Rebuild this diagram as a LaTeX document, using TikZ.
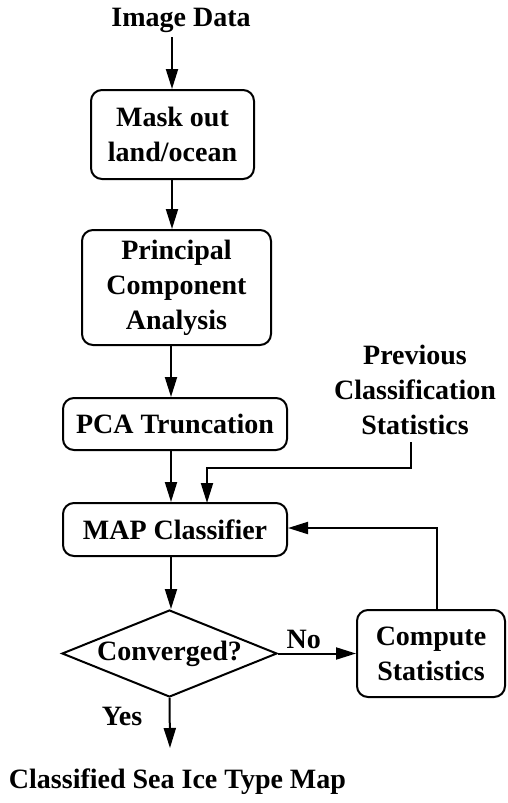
\documentclass[tikz,border=0pt]{standalone}
\usepackage{fontspec}
\setmainfont{Liberation Serif}
\usetikzlibrary{arrows.meta,shapes.geometric}
\begin{document}
\begin{tikzpicture}[x=1pt,y=-1pt,
  every node/.style={font=\bfseries\fontsize{28}{35}\selectfont, inner sep=0pt, align=center},
  procbox/.style={draw, line width=2pt, rounded corners=11pt},
  decision/.style={draw, line width=2pt, diamond, aspect=2.47, minimum width=215pt, minimum height=87pt},
  flow/.style={line width=2pt, -{Triangle[length=20pt,width=12pt]}},
  link/.style={line width=2pt}]
\useasboundingbox (0,0) rectangle (507,803);

\node (img) at (181,20) {Image Data};
\node[procbox, minimum width=163pt, minimum height=89pt] (mask) at (172.5,134.5) {Mask out\\land/ocean};
\node[procbox, minimum width=189pt, minimum height=115pt] (pca) at (176.5,287.5) {Principal\\Component\\Analysis};
\node[procbox, minimum width=224pt, minimum height=52pt] (trunc) at (175,424) {PCA Truncation};
\node (prev) at (415,390) {Previous\\Classification\\Statistics};
\node[procbox, minimum width=224pt, minimum height=53pt] (map) at (175,529.5) {MAP Classifier};
\node[decision] (conv) at (169.5,653.5) {Converged?};
\node[procbox, minimum width=148pt, minimum height=87pt, text depth=0pt] (comp) at (431,653.5) {\fontsize{28}{33}\selectfont Compute\\Statistics};
\node (out) at (177.5,782) {Classified Sea Ice Type Map};

\coordinate (imgfoot) at (172,37);
\coordinate (prevfoot) at (411,442);
\coordinate (prevbend) at (411,468);
\coordinate (mapin) at (207,503);
\coordinate (compup) at (437,528);
\coordinate (outhead) at (170,748);

\draw[flow] (imgfoot) -- (imgfoot |- mask.north);
\draw[flow] (mask.south -| 172,0) -- (pca.north -| 172,0);
\draw[flow] (pca.south -| 171,0) -- (trunc.north -| 171,0);
\draw[flow] (trunc.south -| 171,0) -- (map.north -| 171,0);
\draw[flow] (prevfoot) -- (prevbend) -| (mapin);
\draw[flow] (map.south -| 171,0) -- (conv.north -| 171,0);
\draw[flow] (conv.east) -- node[above=4pt, pos=0.33] {No} (comp.west);
\draw[flow] (comp.north -| compup) -- (compup) -- (compup -| map.east);
\draw[flow] (conv.south) -- (outhead);
\node at (122,716) {Yes};
\end{tikzpicture}
\end{document}
